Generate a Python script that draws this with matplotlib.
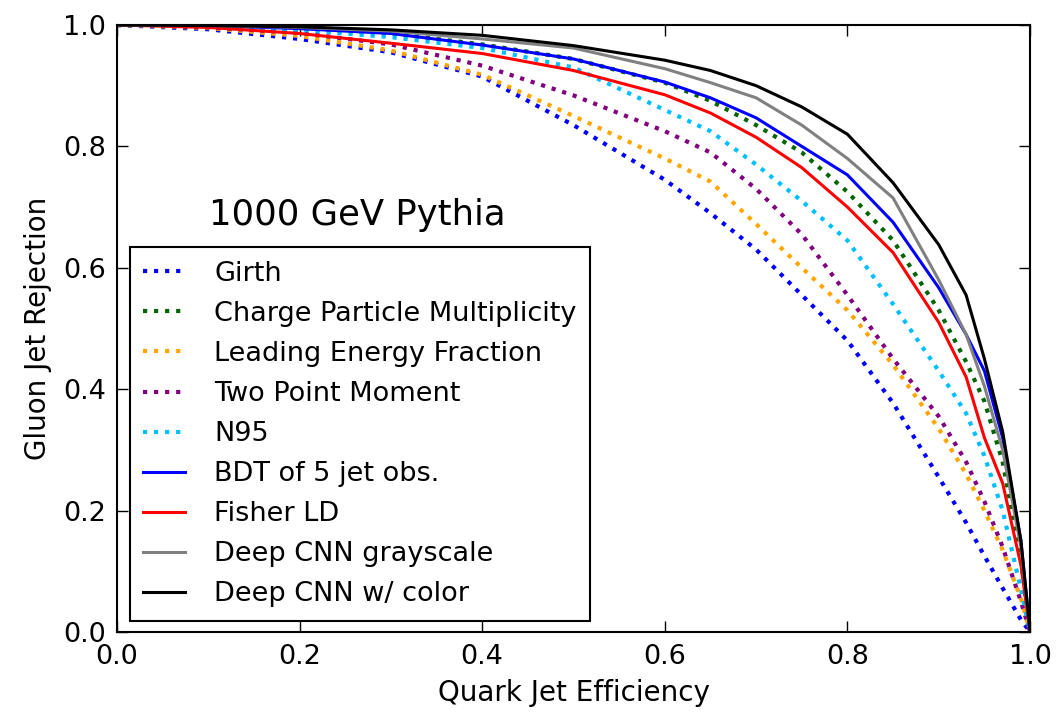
import numpy as np
import matplotlib
matplotlib.use('Agg')
import matplotlib.pyplot as plt

eff = [0.0, 0.1, 0.2, 0.3, 0.4, 0.5, 0.6, 0.65, 0.7, 0.75, 0.8, 0.85, 0.9, 0.93, 0.95, 0.97, 0.99, 1.0]

# gluon rejection for each tagger
girth = [1.0, 0.993, 0.977, 0.955, 0.915, 0.835, 0.745, 0.69, 0.63, 0.555, 0.48, 0.377, 0.255, 0.18, 0.125, 0.072, 0.02, 0.0]
cpm = [1.0, 0.999, 0.994, 0.986, 0.968, 0.944, 0.905, 0.875, 0.835, 0.79, 0.725, 0.645, 0.53, 0.445, 0.38, 0.28, 0.12, 0.0]
lef = [1.0, 0.995, 0.982, 0.958, 0.918, 0.85, 0.78, 0.742, 0.672, 0.60, 0.53, 0.44, 0.335, 0.26, 0.20, 0.135, 0.055, 0.0]
tpm = [1.0, 0.996, 0.987, 0.968, 0.933, 0.884, 0.825, 0.79, 0.73, 0.655, 0.555, 0.45, 0.355, 0.28, 0.215, 0.14, 0.05, 0.0]
n95 = [1.0, 0.998, 0.992, 0.98, 0.962, 0.93, 0.86, 0.825, 0.77, 0.71, 0.645, 0.54, 0.43, 0.36, 0.29, 0.20, 0.07, 0.0]
bdt = [1.0, 0.999, 0.994, 0.986, 0.967, 0.944, 0.906, 0.88, 0.847, 0.80, 0.753, 0.675, 0.567, 0.49, 0.43, 0.32, 0.15, 0.0]
fisher = [1.0, 0.996, 0.986, 0.97, 0.953, 0.925, 0.885, 0.855, 0.815, 0.765, 0.70, 0.625, 0.51, 0.42, 0.32, 0.245, 0.11, 0.0]
cnn_gray = [1.0, 0.999, 0.996, 0.99, 0.977, 0.962, 0.928, 0.905, 0.88, 0.835, 0.78, 0.715, 0.58, 0.49, 0.405, 0.30, 0.14, 0.0]
cnn_color = [1.0, 0.999, 0.997, 0.992, 0.983, 0.966, 0.942, 0.925, 0.90, 0.865, 0.82, 0.74, 0.638, 0.555, 0.45, 0.33, 0.15, 0.0]

labels = ['Girth', 'Charge Particle Multiplicity', 'Leading Energy Fraction',
          'Two Point Moment', 'N95', 'BDT of 5 jet obs.', 'Fisher LD',
          'Deep CNN grayscale', 'Deep CNN w/ color']

plt.rcParams['font.family'] = ['DejaVu Sans']
plt.rcParams['xtick.direction'] = 'in'
plt.rcParams['ytick.direction'] = 'in'

fig = plt.figure(figsize=(10.63, 7.14), dpi=100)
ax = fig.add_axes([0.110, 0.115, 0.859, 0.850])

dotted = dict(ls=':', lw=3)
ax.plot(eff, girth, color='blue', label=labels[0], **dotted)
ax.plot(eff, cpm, color='darkgreen', label=labels[1], **dotted)
ax.plot(eff, lef, color='orange', label=labels[2], **dotted)
ax.plot(eff, tpm, color='purple', label=labels[3], **dotted)
ax.plot(eff, n95, color='deepskyblue', label=labels[4], **dotted)
ax.plot(eff, bdt, color='blue', lw=2.2, label=labels[5])
ax.plot(eff, fisher, color='red', lw=2.2, label=labels[6])
ax.plot(eff, cnn_gray, color='gray', lw=2.2, label=labels[7])
ax.plot(eff, cnn_color, color='black', lw=2.2, label=labels[8])

ax.set_xlim(0, 1)
ax.set_ylim(0, 1)
ax.set_xticks(np.arange(0, 1.01, 0.2))
ax.set_yticks(np.arange(0, 1.01, 0.2))
ax.tick_params(labelsize=19.5, length=8, top=True, right=True, width=1)
ax.tick_params(axis='x', pad=9)
ax.tick_params(axis='y', pad=8)
for s in ax.spines.values():
    s.set_linewidth(1.5)
ax.set_xlabel('Quark Jet Efficiency', fontsize=20, labelpad=6)
ax.set_ylabel('Gluon Jet Rejection', fontsize=20, labelpad=8)

ax.text(0.263, 0.687, '1000 GeV Pythia', fontsize=25.5, ha='center', va='center',
        transform=ax.transAxes)

leg = ax.legend(loc='lower left', bbox_to_anchor=(0.0142, 0.018), borderaxespad=0,
                fontsize=19.5, fancybox=False, edgecolor='black', framealpha=1,
                handlelength=1.55, handletextpad=1.07, labelspacing=0.52,
                borderpad=0.5)
leg.get_frame().set_linewidth(1.5)

fig.savefig('out.png', dpi=100)
